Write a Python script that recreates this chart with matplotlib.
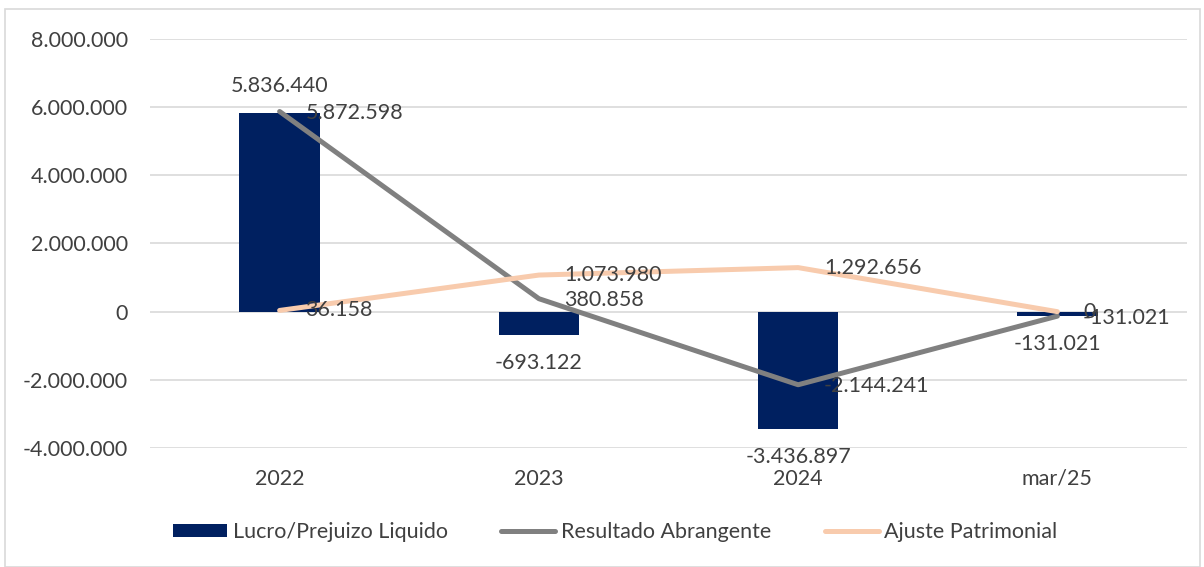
import numpy as np
import matplotlib
matplotlib.use("Agg")
from matplotlib import pyplot as plt
from matplotlib.patches import Rectangle
from matplotlib.ticker import FuncFormatter

categories = ["2022", "2023", "2024", "mar/25"]
lucro = [5836440, -693122, -3436897, -131021]
resultado = [5872598, 380858, -2144241, -131021]
ajuste = [36158, 1073980, 1292656, 0]
yticks = [-4000000, -2000000, 0, 2000000, 4000000, 6000000, 8000000]

NAVY = "#002060"
GRAY = "#808080"
PEACH = "#F8CBAD"
TXT = "#404040"


def br(v):
    # brazilian thousands separator
    s = f"{abs(int(v)):,}".replace(",", ".")
    return "-" + s if v < 0 else s


plt.rcParams["font.family"] = ["Lato", "DejaVu Sans"]
plt.rcParams["font.size"] = 15.5

fig = plt.figure(figsize=(12.04, 5.67), dpi=100)
fig.patches.append(Rectangle((5 / 1204, 0), 1195 / 1204, 558 / 567, transform=fig.transFigure,
                             fill=False, edgecolor="#D9D9D9", linewidth=1.2))
ax = fig.add_axes([150 / 1204, 1 - 448 / 567, 1037 / 1204, 409 / 567])

x = np.arange(len(categories))
bars = ax.bar(x, lucro, width=0.31, color=NAVY, label="Lucro/Prejuizo Liquido", zorder=2)
l1, = ax.plot(x, resultado, color=GRAY, lw=3.6, solid_capstyle="round", label="Resultado Abrangente", zorder=3)
l2, = ax.plot(x, ajuste, color=PEACH, lw=3.6, solid_capstyle="round", label="Ajuste Patrimonial", zorder=4)

ax.set_xlim(-0.5, len(categories) - 0.5)
ax.set_ylim(-4000000, 8000000)
ax.set_yticks(yticks)
ax.yaxis.set_major_formatter(FuncFormatter(lambda v, p: br(v)))
ax.set_xticks(x)
ax.set_xticklabels(categories)
ax.grid(axis="y", color="#D9D9D9", lw=1.2, zorder=0)
ax.set_axisbelow(True)
for s in ax.spines.values():
    s.set_visible(False)
ax.tick_params(axis="y", length=0, pad=16, colors=TXT)
ax.tick_params(axis="x", length=0, pad=15, colors=TXT)

# bar labels
for xi, v in zip(x, lucro):
    off = 19 if v >= 0 else -20
    ax.annotate(br(v), (xi, v), xytext=(0, off), textcoords="offset points",
                ha="center", va="center", color=TXT, zorder=6)
# line labels to the right of points
for xi, v in zip(x, resultado):
    ax.annotate(br(v), (xi, v), xytext=(18.5, -1), textcoords="offset points",
                ha="left", va="center", color=TXT, zorder=6)
for xi, v in zip(x, ajuste):
    ax.annotate(br(v), (xi, v), xytext=(18.5, 0), textcoords="offset points",
                ha="left", va="center", color=TXT, zorder=6)

leg = fig.legend([bars, l1, l2], ["Lucro/Prejuizo Liquido", "Resultado Abrangente", "Ajuste Patrimonial"],
                 loc="center", bbox_to_anchor=(0.511, 1 - 532 / 567), ncol=3, frameon=False,
                 handlelength=2.5, handleheight=0.6, handletextpad=0.25, columnspacing=2.5)
for t in leg.get_texts():
    t.set_color(TXT)

plt.savefig("out.png", dpi=100)
